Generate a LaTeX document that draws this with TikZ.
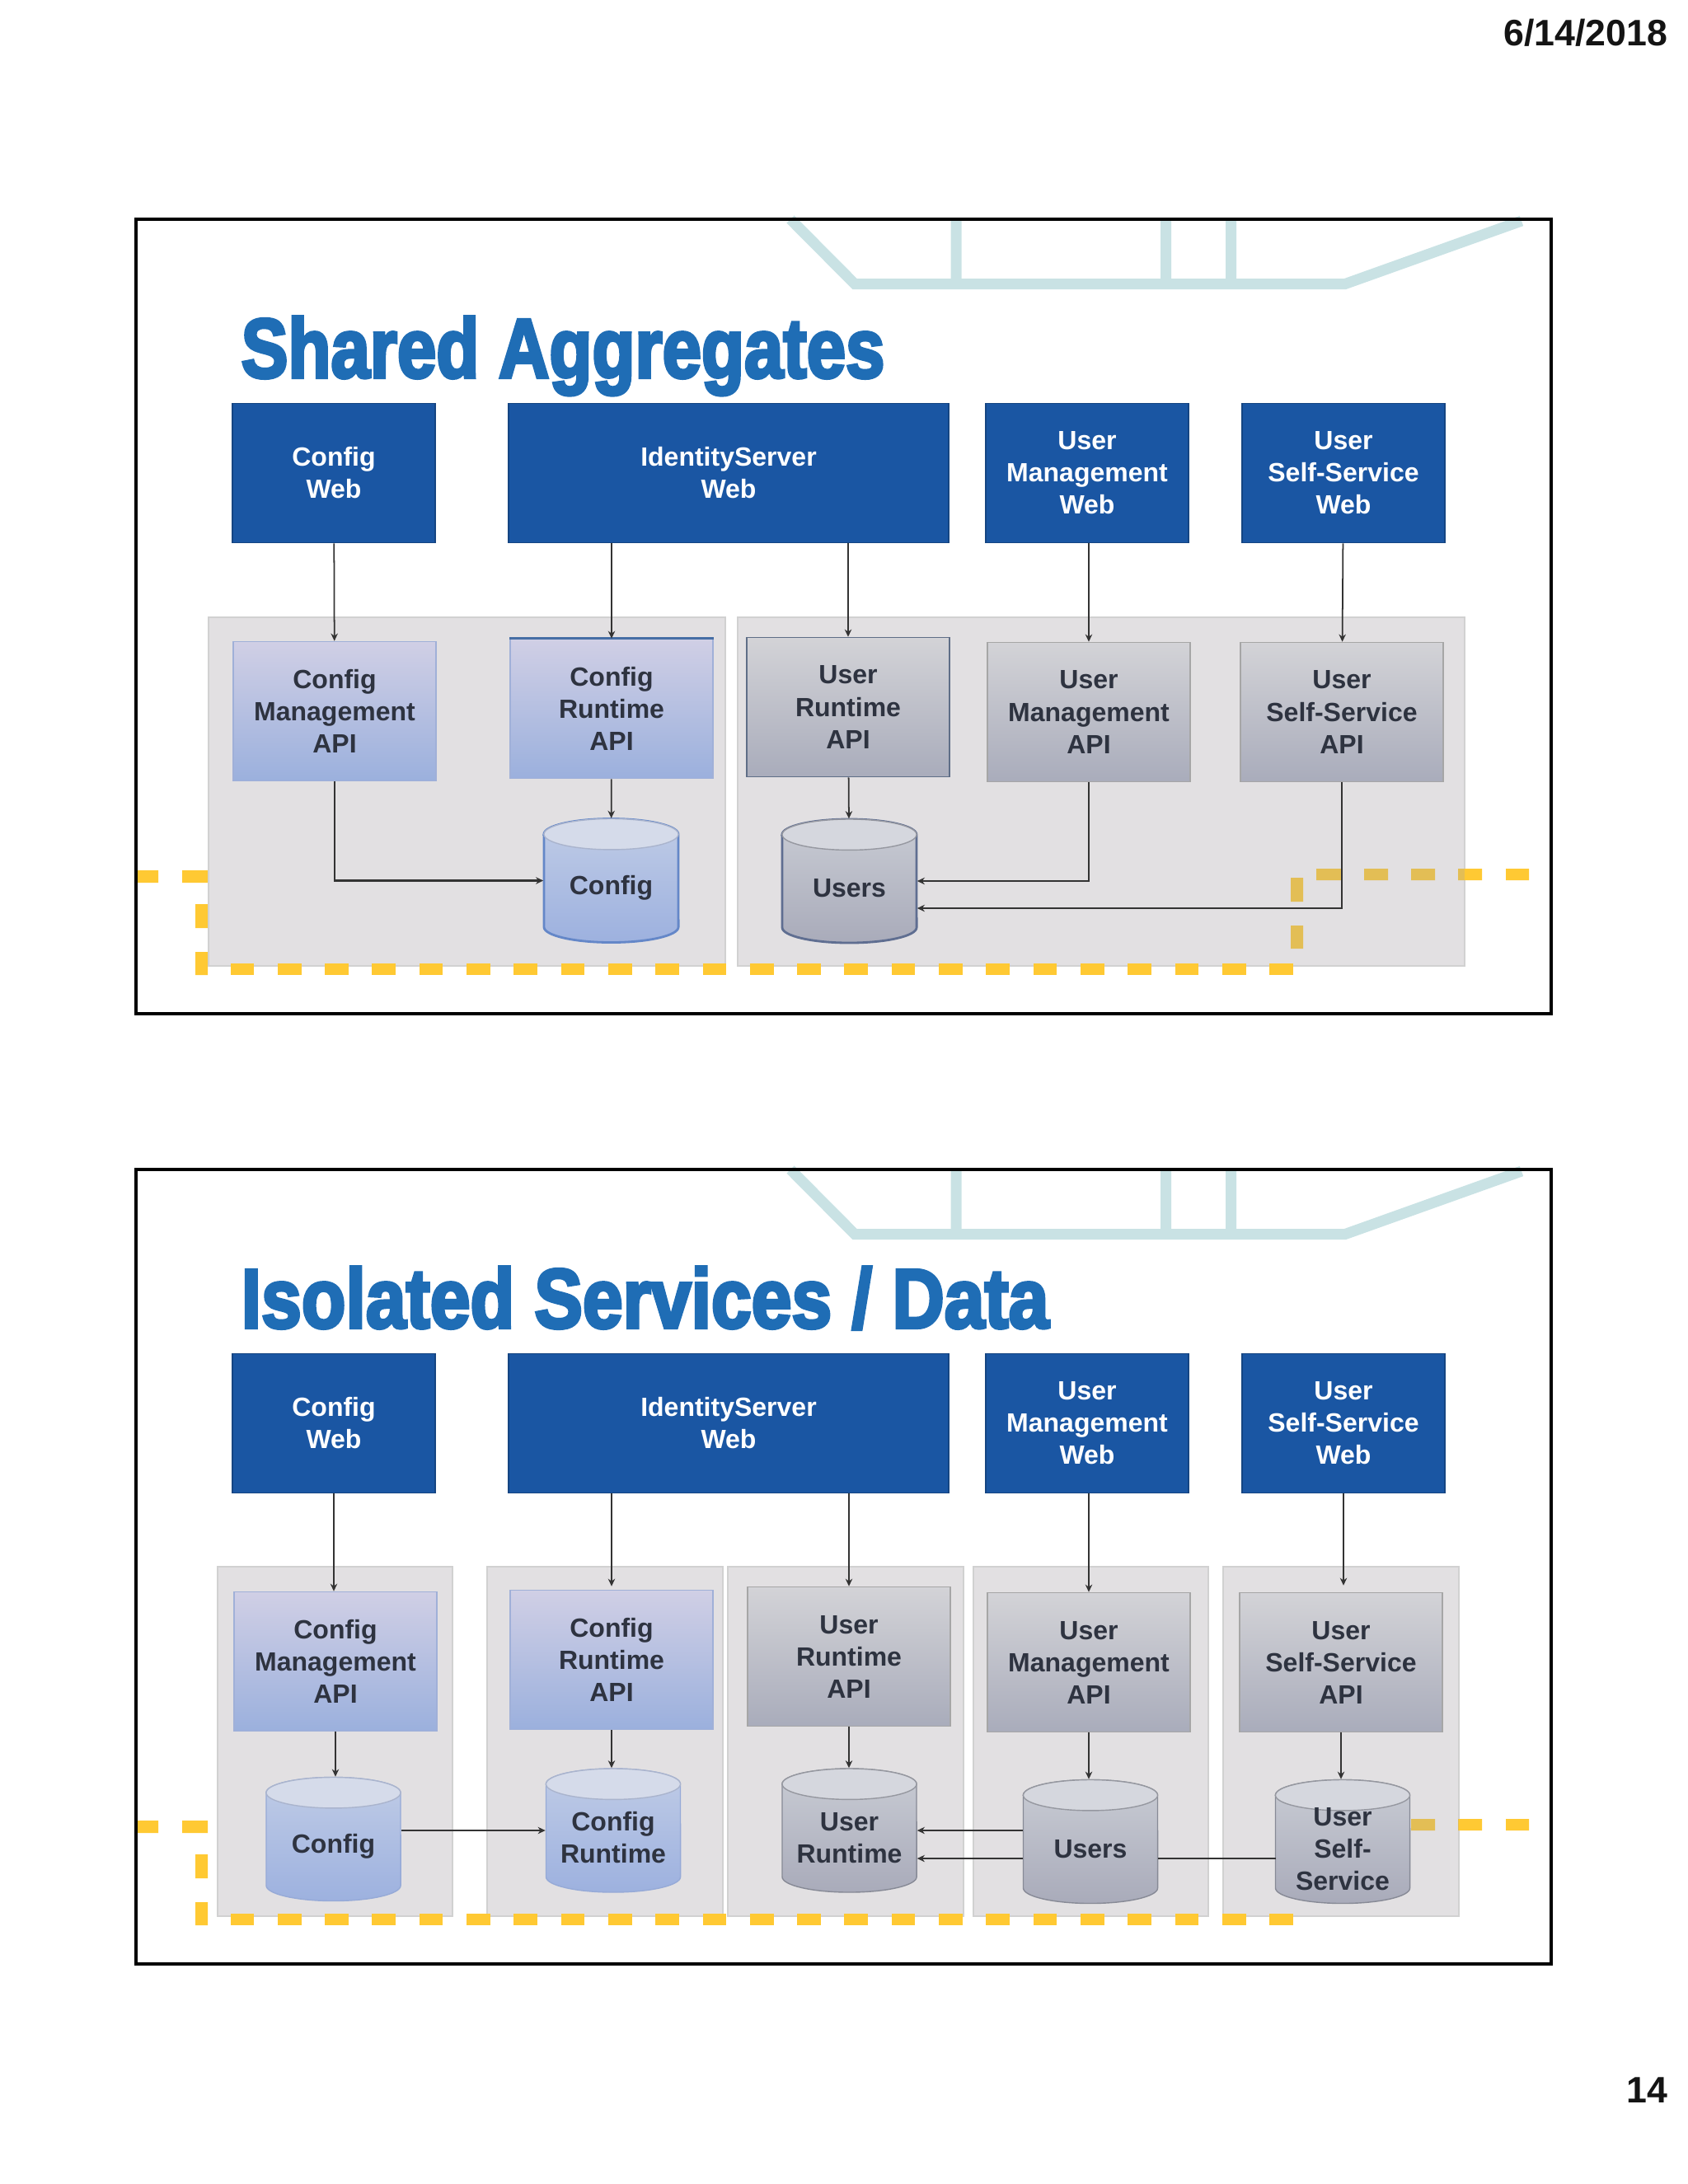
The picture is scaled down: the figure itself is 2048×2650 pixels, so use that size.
\documentclass[tikz,border=0pt]{standalone}
\usepackage{fontspec}
\setmainfont{Liberation Sans}
\newfontfamily\titlefont[FakeBold=4]{Liberation Sans Bold}
\usetikzlibrary{arrows.meta}
\definecolor{webblue}{HTML}{1A56A3}
\definecolor{titleblue}{HTML}{1F6DB5}
\definecolor{panelgray}{HTML}{E2E0E2}
\definecolor{dashyellow}{HTML}{FFC933}
\definecolor{dashmuted}{HTML}{E3BE55}
\definecolor{lineteal}{HTML}{C9E2E4}
\definecolor{inkgray}{HTML}{2E3340}
\definecolor{connink}{HTML}{333333}
\tikzset{
	webbox/.style={draw=webblue!80!black,fill=webblue,text=white,minimum width=2.46cm,minimum height=1.69cm,align=center,font=\boxfont},
	apiblue/.style={draw={rgb,255:red,160;green,176;blue,216},top color={rgb,255:red,208;green,207;blue,229},middle color={rgb,255:red,177;green,192;blue,227},bottom color={rgb,255:red,155;green,176;blue,221},text=inkgray,minimum width=2.46cm,minimum height=1.69cm,align=center,font=\boxfont},
	apigray/.style={draw=black!35,top color={rgb,255:red,211;green,211;blue,215},middle color={rgb,255:red,188;green,192;blue,205},bottom color={rgb,255:red,169;green,172;blue,187},text=inkgray,minimum width=2.46cm,minimum height=1.69cm,align=center,font=\boxfont},
	dbblue/.style={draw={rgb,255:red,150;green,170;blue,215},top color={rgb,255:red,192;green,204;blue,230},bottom color={rgb,255:red,157;green,177;blue,223}},
	dbbluelid/.style={draw={rgb,255:red,170;green,180;blue,205},fill={rgb,255:red,213;green,219;blue,234}},
	dbbluerim/.style={dbblue,draw={rgb,255:red,100;green,135;blue,200},line width=0.8pt},
	dbbluerimlid/.style={dbbluelid},
	dbgray/.style={draw={rgb,255:red,135;green,138;blue,150},top color={rgb,255:red,201;green,204;blue,212},bottom color={rgb,255:red,169;green,171;blue,186}},
	dbgraylid/.style={draw={rgb,255:red,150;green,152;blue,160},fill={rgb,255:red,213;green,215;blue,222}},
	dbgrayrim/.style={dbgray,draw={rgb,255:red,95;green,110;blue,145},line width=0.8pt},
	dbgrayrimlid/.style={dbgraylid},
	dbframe/.style={minimum width=1.63cm,minimum height=1.5cm,inner sep=0},
	dbtext/.style={text=inkgray,align=center,font=\boxfont,inner sep=0},
	panel/.style={draw=black!18,fill=panelgray},
	conn/.style={-{Stealth[length=2.6pt,width=2.4pt]},line width=0.5pt,connink},
	connbent/.style={conn,line width=0.75pt},
	slide/.style={draw=black,line width=0.9pt},
	trackline/.style={lineteal,line width=3.7pt},
}
\newcommand{\boxfont}{\fontsize{9.1}{11.1}\selectfont\bfseries}
\newcommand{\dbcan}[5]{%
	\path[#1] (#3-81.5,#4-56.3)--(#3-81.5,#4+56.3) arc[start angle=180,end angle=360,x radius=0.815cm,y radius=0.187cm]--(#3+81.5,#4-56.3) arc[start angle=0,end angle=180,x radius=0.815cm,y radius=0.187cm]--cycle;
	\draw[#1lid] (#3,#4-56.3) ellipse[x radius=0.815cm,y radius=0.187cm];
	\node[dbframe] (#2) at (#3,#4) {};
	\node[dbtext] (#2text) at (#3,#4+9) {#5};
}
\begin{document}
\begin{tikzpicture}[x=0.01cm,y=-0.01cm]
	\useasboundingbox (0,0) rectangle (2048,2650);
	\node[font=\fontsize{12.7}{15}\selectfont\bfseries,text=black!92,anchor=east,inner sep=0] (date) at (2024,40) {6/14/2018};
	\node[font=\fontsize{12.7}{15}\selectfont\bfseries,text=black!92,anchor=east,inner sep=0] (pagenum) at (2024,2536) {14};
	% first slide
	\draw[trackline] (959,266)--(1037,344.5)--(1632,344.5)--(1846,268) (1160,266)--(1160,344) (1414.5,266)--(1414.5,344) (1493.5,266)--(1493.5,344);
	\draw[slide] (165,266) rectangle (1882,1230);
	\node[anchor=base west,inner sep=0,text=titleblue] (titleone) at (292,458) {\scalebox{0.835}[1]{\titlefont\fontsize{29}{30}\selectfont Shared Aggregates}};
	\fill[dashyellow] (167,1056) rectangle (192,1071) (221,1056) rectangle (252,1071) (237,1097) rectangle (252,1126) (237,1155) rectangle (252,1183);
	\draw[panel] (253,749) rectangle (880,1172);
	\draw[panel] (895,749) rectangle (1777,1172);
	\foreach \x in {0,...,22}{\fill[dashyellow] (279.5+57.3*\x,1169) rectangle ++(28.7,14);}
	\fill[dashmuted] (1566,1065) rectangle (1581,1094) (1566,1123) rectangle (1581,1151) (1597,1054) rectangle (1627,1068) (1655,1054) rectangle (1684,1068) (1712,1054) rectangle (1741,1068) (1769,1054) rectangle (1777,1068);
	\fill[dashyellow] (1777,1054) rectangle (1798,1068) (1827,1054) rectangle (1855,1068);
	\node[webbox] (cwebone) at (405,574) {Config\\Web};
	\node[webbox,minimum width=5.34cm] (iswebone) at (884,574) {IdentityServer\\Web};
	\node[webbox] (umwebone) at (1319,574) {User\\Management\\Web};
	\node[webbox] (sswebone) at (1630,574) {User\\Self-Service\\Web};
	\node[apiblue] (cmapione) at (406,863) {Config\\Management\\API};
	\node[apiblue] (crapione) at (742,860) {Config\\Runtime\\API};
	\draw[line width=0.9pt,draw={rgb,255:red,70;green,110;blue,165}] (crapione.north west)--(crapione.north east);
	\node[apigray,draw={rgb,255:red,95;green,110;blue,135}] (urapione) at (1029,858) {User\\Runtime\\API};
	\node[apigray] (umapione) at (1321,864) {User\\Management\\API};
	\node[apigray] (ssapione) at (1628,864) {User\\Self-Service\\API};
	\dbcan{dbbluerim}{cfgdbone}{741.5}{1068.5}{Config}
	\dbcan{dbgrayrim}{usrdbone}{1030.5}{1069}{Users}
	\draw[conn] (cwebone)--(cmapione);
	\draw[conn] (crapione.north|-iswebone.south)--(crapione);
	\draw[conn] (urapione.north|-iswebone.south)--(urapione);
	\draw[conn] (umapione.north|-umwebone.south)--(umapione);
	\draw[conn] (sswebone)--(ssapione);
	\draw[conn] (crapione)--(cfgdbone);
	\draw[conn] (urapione)--(usrdbone);
	\draw[connbent] (cmapione.south)|-(cfgdbone.west);
	\draw[connbent] (umapione.south)|-(usrdbone.east);
	\coordinate (ssturnone) at (1628,1102);
	\draw[connbent] (ssapione.south)--(ssturnone)--(ssturnone-|usrdbone.east);
	% second slide
	\draw[trackline] (959,1419)--(1037,1497.5)--(1632,1497.5)--(1846,1421) (1160,1419)--(1160,1497) (1414.5,1419)--(1414.5,1497) (1493.5,1419)--(1493.5,1497);
	\draw[slide] (165,1419) rectangle (1882,2383);
	\node[anchor=base west,inner sep=0,text=titleblue] (titletwo) at (292,1611) {\scalebox{0.86}[1]{\titlefont\fontsize{29}{30}\selectfont Isolated Services / Data}};
	\fill[dashyellow] (167,2209) rectangle (192,2224) (221,2209) rectangle (252,2224) (237,2250) rectangle (252,2279) (237,2308) rectangle (252,2336);
	\foreach \a/\b in {264/549,591/877,883/1169,1181/1466,1484/1770}{\draw[panel] (\a,1901) rectangle (\b,2325);}
	\foreach \x in {0,...,22}{\fill[dashyellow] (279.5+57.3*\x,2322) rectangle ++(28.7,14);}
	\fill[dashmuted] (1712,2207) rectangle (1741,2221) (1769,2207) rectangle (1770,2221);
	\fill[dashyellow] (1770,2207) rectangle (1798,2221) (1827,2207) rectangle (1855,2221);
	\node[webbox] (cwebtwo) at (405,1727) {Config\\Web};
	\node[webbox,minimum width=5.34cm] (iswebtwo) at (884,1727) {IdentityServer\\Web};
	\node[webbox] (umwebtwo) at (1319,1727) {User\\Management\\Web};
	\node[webbox] (sswebtwo) at (1630,1727) {User\\Self-Service\\Web};
	\node[apiblue] (cmapitwo) at (407,2016) {Config\\Management\\API};
	\node[apiblue] (crapitwo) at (742,2014) {Config\\Runtime\\API};
	\node[apigray] (urapitwo) at (1030,2010) {User\\Runtime\\API};
	\node[apigray] (umapitwo) at (1321,2017) {User\\Management\\API};
	\node[apigray] (ssapitwo) at (1627,2017) {User\\Self-Service\\API};
	\dbcan{dbblue}{cfgdbtwo}{404.5}{2231.5}{Config}
	\dbcan{dbblue}{crdbtwo}{744}{2221}{Config\\Runtime}
	\dbcan{dbgray}{urdbtwo}{1030.5}{2221}{User\\Runtime}
	\dbcan{dbgray}{usrdbtwo}{1323}{2234.5}{Users}
	\dbcan{dbgray}{ssdbtwo}{1629}{2234.5}{User\\Self-\\Service}
	\draw[conn] (cwebtwo.south)--(cmapitwo.north-|cwebtwo.south);
	\draw[conn,shorten >=0.04cm] (crapitwo.north|-iswebtwo.south)--(crapitwo);
	\draw[conn] (urapitwo.north|-iswebtwo.south)--(urapitwo);
	\draw[conn] (umapitwo.north|-umwebtwo.south)--(umapitwo);
	\draw[conn,shorten >=0.08cm] (sswebtwo)--(ssapitwo.north-|sswebtwo.south);
	\foreach \a/\b in {cmapitwo/cfgdbtwo,crapitwo/crdbtwo,urapitwo/urdbtwo,umapitwo/usrdbtwo,ssapitwo/ssdbtwo}{\draw[conn] (\a)--(\a.south|-\b.north);}
	\draw[connbent] (cfgdbtwo.east|-crdbtwo.west)--(crdbtwo.west);
	\draw[connbent] (usrdbtwo.west|-urdbtwo.east)--(urdbtwo.east);
	\coordinate (ssturntwo) at (1548,2255);
	\draw[connbent,-] (ssturntwo)--(ssturntwo-|usrdbtwo.east);
	\draw[connbent] (ssturntwo-|usrdbtwo.west)--(ssturntwo-|urdbtwo.east);
\end{tikzpicture}
\end{document}
